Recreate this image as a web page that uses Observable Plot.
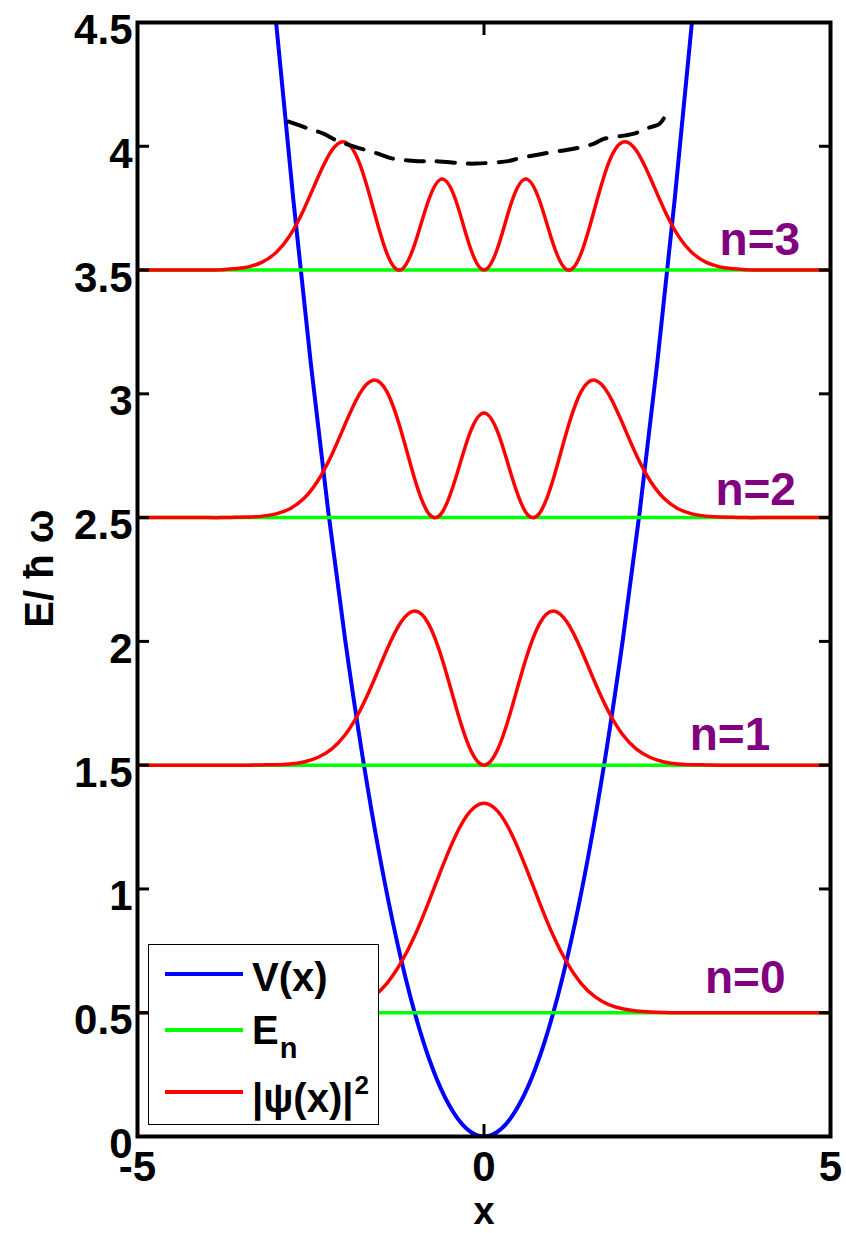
<!DOCTYPE html>
<html><head><meta charset="utf-8">
<script src="https://cdn.jsdelivr.net/npm/d3@7"></script>
<script src="https://cdn.jsdelivr.net/npm/@observablehq/plot@0.6"></script>
<style>
body{margin:0;background:#fff;}
#wrap{position:relative;width:846px;height:1233px;font-family:"Liberation Sans",Arial,sans-serif;font-weight:bold;}
#legend{position:absolute;left:148px;top:944px;width:229px;height:179px;border:1.5px solid #000;background:#fff;}
.sw{position:absolute;left:16px;width:78px;height:4px;}
.lt{position:absolute;left:103px;font-size:40px;line-height:40px;height:40px;white-space:nowrap;color:#000;}
</style></head>
<body><div id="wrap"></div>
<script>
// ---- data ----
const energies = [0.5, 1.5, 2.5, 3.5];
const xGrid = [-5, -4, -3.8, -3.6, -3.4, -3.2, -3, -2.8, -2.6, -2.4, -2.2, -2, -1.8, -1.6, -1.4, -1.2, -1, -0.8, -0.6, -0.4, -0.2,
  0, 0.2, 0.4, 0.6, 0.8, 1, 1.2, 1.4, 1.6, 1.8, 2, 2.2, 2.4, 2.6, 2.8, 3, 3.2, 3.4, 3.6, 3.8, 4, 5];
const psi0 = [0, 0, 0, 0, 0, 0, 0, 0, 0.001, 0.003, 0.007, 0.016, 0.033, 0.065, 0.119, 0.201, 0.311, 0.446, 0.590, 0.721, 0.813,
  0.846, 0.813, 0.721, 0.590, 0.446, 0.311, 0.201, 0.119, 0.065, 0.033, 0.016, 0.007, 0.003, 0.001, 0, 0, 0, 0, 0, 0, 0, 0];
const psi1 = [0, 0, 0, 0, 0, 0.001, 0.002, 0.005, 0.013, 0.031, 0.065, 0.124, 0.215, 0.335, 0.467, 0.577, 0.623, 0.571, 0.425, 0.231, 0.065,
  0, 0.065, 0.231, 0.425, 0.571, 0.623, 0.577, 0.467, 0.335, 0.215, 0.124, 0.065, 0.031, 0.013, 0.005, 0.002, 0.001, 0, 0, 0, 0, 0];
const psi2 = [0, 0, 0, 0.001, 0.002, 0.006, 0.015, 0.036, 0.077, 0.148, 0.252, 0.380, 0.498, 0.555, 0.508, 0.354, 0.156, 0.017, 0.023, 0.167, 0.344,
  0.423, 0.344, 0.167, 0.023, 0.017, 0.156, 0.354, 0.508, 0.555, 0.498, 0.380, 0.252, 0.148, 0.077, 0.036, 0.015, 0.006, 0.002, 0.001, 0, 0, 0];
const psi3 = [0, 0, 0.001, 0.005, 0.013, 0.032, 0.071, 0.140, 0.245, 0.372, 0.482, 0.517, 0.434, 0.251, 0.066, 0.001, 0.104, 0.282, 0.368, 0.276, 0.092,
  0, 0.092, 0.276, 0.368, 0.282, 0.104, 0.001, 0.066, 0.251, 0.434, 0.517, 0.482, 0.372, 0.245, 0.140, 0.071, 0.032, 0.013, 0.005, 0.001, 0, 0];
const vX = [-3, -2.75, -2.5, -2.25, -2, -1.75, -1.5, -1.25, -1, -0.75, -0.5, -0.25, 0, 0.25, 0.5, 0.75, 1, 1.25, 1.5, 1.75, 2, 2.25, 2.5, 2.75, 3];
const vY = [4.5, 3.781, 3.125, 2.531, 2, 1.531, 1.125, 0.781, 0.5, 0.281, 0.125, 0.031, 0, 0.031, 0.125, 0.281, 0.5, 0.781, 1.125, 1.531, 2, 2.531, 3.125, 3.781, 4.5];
const dashX = [-2.82, -2.57, -2.31, -2.10, -1.53, -1.31, -0.95, -0.74, -0.23, -0.12, 0.35, 0.49, 0.85, 1.29, 1.58, 1.73, 2.15, 2.38, 2.53, 2.63];
const dashY = [4.10, 4.075, 4.05, 4.02, 3.97, 3.95, 3.94, 3.94, 3.93, 3.93, 3.94, 3.95, 3.97, 3.99, 4.01, 4.03, 4.05, 4.075, 4.09, 4.13];
const labelText = ["n=3", "n=2", "n=1", "n=0"];
const labelX = [3.98, 3.92, 3.55, 3.77];
const labelY = [3.62, 2.61, 1.62, 0.64];
const yTicks = [0, 0.5, 1, 1.5, 2, 2.5, 3, 3.5, 4, 4.5];
const xTicks = [-5, 0, 5];

// ---- tables ----
const psiSeries = [psi0, psi1, psi2, psi3];
const psiRows = [];
psiSeries.forEach((s, n) => s.forEach((v, i) => psiRows.push({x: xGrid[i], y: energies[n] + v, n})));
const vRows = vX.map((x, i) => ({x, y: vY[i]}));
const dashRows = dashX.map((x, i) => ({x, y: dashY[i]}));
const labelRows = labelText.map((t, i) => ({t, x: labelX[i], y: labelY[i]}));
const fmt = d => String(d);

const chart = Plot.plot({
  width: 846, height: 1233,
  marginLeft: 137, marginRight: 16, marginTop: 22, marginBottom: 97,
  x: {domain: [-5, 5]},
  y: {domain: [0, 4.5]},
  style: {fontFamily: "'Liberation Sans', Arial, sans-serif", fontWeight: "bold", fontSize: "42px", background: "white", overflow: "visible"},
  marks: [
    Plot.line(vRows, {x: "x", y: "y", stroke: "#0000ff", strokeWidth: 4, curve: "natural", clip: true}),
    Plot.ruleY(energies, {stroke: "#00ff00", strokeWidth: 3.5}),
    Plot.line(psiRows, {x: "x", y: "y", z: "n", stroke: "#ff0000", strokeWidth: 3.5, curve: "natural", clip: true}),
    Plot.line(dashRows, {x: "x", y: "y", stroke: "black", strokeWidth: 4, strokeDasharray: "18,13", curve: "catmull-rom"}),
    Plot.text(labelRows, {x: "x", y: "y", text: "t", fill: "#800080", fontSize: 46, fontWeight: "bold"}),
    Plot.frame({stroke: "black", strokeWidth: 4}),
    Plot.axisY({anchor: "left", ticks: yTicks, tickSize: -12, strokeWidth: 3, tickFormat: () => "", label: null}),
    Plot.axisY({anchor: "right", ticks: yTicks, tickSize: -12, strokeWidth: 3, tickFormat: () => "", label: null}),
    Plot.axisX({anchor: "bottom", ticks: xTicks, tickSize: -12, strokeWidth: 3, tickFormat: () => "", label: null}),
    Plot.axisX({anchor: "top", ticks: xTicks, tickSize: -12, strokeWidth: 3, tickFormat: () => "", label: null}),
    Plot.axisY({anchor: "left", ticks: yTicks, tickSize: 0, tickPadding: 5, dy: 8, fontSize: 42, tickFormat: fmt, label: null}),
    Plot.axisX({anchor: "bottom", ticks: xTicks, tickSize: 0, tickPadding: 15, fontSize: 42, tickFormat: fmt, label: null}),
    Plot.text(["E/ ħ ω"], {frameAnchor: "left", textAnchor: "middle", lineAnchor: "middle", rotate: -90, dx: -97, dy: -11, fontSize: 40}),
    Plot.text(["x"], {frameAnchor: "bottom", textAnchor: "middle", lineAnchor: "middle", dy: 75, fontSize: 38})
  ]
});

const wrap = document.getElementById("wrap");
wrap.appendChild(chart);

// legend (inside the axes, bottom-left, like MATLAB)
const legend = document.createElement("div");
legend.id = "legend";
legend.innerHTML = `
  <div class="sw" style="top:27px;background:#0000ff"></div>
  <div class="lt" style="top:12px">V(x)</div>
  <div class="sw" style="top:83px;background:#00ff00"></div>
  <div class="lt" style="top:65px">E<span style="font-size:29px;position:relative;top:14px;margin-left:1px">n</span></div>
  <div class="sw" style="top:145px;background:#ff0000"></div>
  <div class="lt" style="top:133px">|ψ(x)|<span style="font-size:26px;position:relative;top:-18px;margin-left:1px">2</span></div>`;
wrap.appendChild(legend);
</script></body></html>
